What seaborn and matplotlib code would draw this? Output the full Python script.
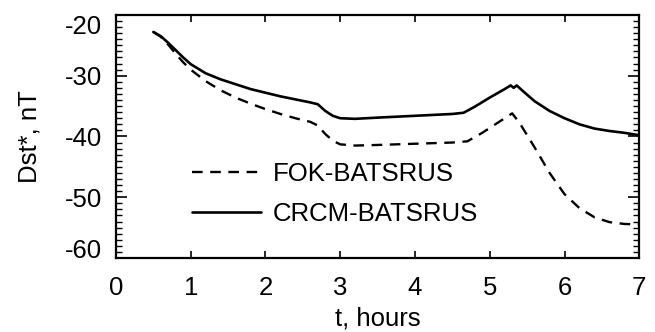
import matplotlib
matplotlib.use("Agg")
import matplotlib.pyplot as plt
import seaborn as sns
from matplotlib.ticker import MultipleLocator

# hours
t_crcm = [0.5, 0.6, 0.7, 0.8, 0.9, 1.0, 1.2, 1.4, 1.6, 1.8, 2.0, 2.2, 2.4, 2.6, 2.7,
          2.8, 2.9, 3.0, 3.2, 3.5, 4.0, 4.5, 4.65, 4.8, 5.0, 5.2, 5.28, 5.32, 5.36,
          5.45, 5.6, 5.8, 6.0, 6.2, 6.4, 6.6, 6.8, 7.0]
dst_crcm = [-22.8, -23.5, -24.6, -25.8, -27.0, -28.1, -29.6, -30.6, -31.4, -32.2,
            -32.8, -33.4, -33.9, -34.4, -34.7, -35.8, -36.6, -37.0, -37.1, -36.9,
            -36.6, -36.3, -36.1, -35.1, -33.6, -32.2, -31.6, -32.0, -31.6, -32.6,
            -34.2, -35.8, -37.0, -38.0, -38.7, -39.1, -39.4, -39.8]

t_fok = [0.5, 0.6, 0.7, 0.8, 0.9, 1.0, 1.2, 1.4, 1.6, 1.8, 2.0, 2.2, 2.4, 2.6, 2.7,
         2.8, 2.9, 3.0, 3.2, 3.5, 4.0, 4.5, 4.7, 4.9, 5.1, 5.3, 5.4, 5.6, 5.8, 6.0,
         6.2, 6.4, 6.6, 6.8, 7.0]
dst_fok = [-22.8, -23.6, -24.9, -26.4, -27.8, -29.0, -30.9, -32.4, -33.6, -34.6,
           -35.5, -36.3, -37.0, -37.6, -38.2, -39.6, -40.7, -41.3, -41.5, -41.4,
           -41.2, -41.0, -40.8, -39.4, -37.8, -36.2, -37.8, -41.8, -46.0, -49.5,
           -51.8, -53.3, -54.1, -54.4, -54.5]

yticks = [-60, -50, -40, -30, -20]
ytick_labels = ["-60", "-50", "-40", "-30", "-20"]

sns.set_style("ticks")
plt.rcParams["font.family"] = ["Liberation Sans", "DejaVu Sans"]
plt.rcParams.update({"text.color": "black", "axes.labelcolor": "black",
                     "xtick.color": "black", "ytick.color": "black",
                     "axes.edgecolor": "black"})
FS = 18.5

fig = plt.figure(figsize=(6.55, 3.32), dpi=100)
ax = fig.add_axes([0.177, 0.223, 0.799, 0.732])

sns.lineplot(x=t_fok, y=dst_fok, ax=ax, color="black", lw=1.7,
             label="FOK-BATSRUS", estimator=None, sort=False)
ax.lines[-1].set_dashes((4.5, 3.2))
sns.lineplot(x=t_crcm, y=dst_crcm, ax=ax, color="black", lw=1.9,
             label="CRCM-BATSRUS", estimator=None, sort=False)

ax.set_xlim(0, 7)
ax.set_ylim(-60, -20)
ax.xaxis.set_major_locator(MultipleLocator(1))
ax.yaxis.set_minor_locator(MultipleLocator(1))
ax.set_yticks(yticks)
ax.set_yticklabels(ytick_labels)
yl = ax.get_yticklabels()
yl[0].set_va("baseline")
yl[-1].set_va("top")

ax.tick_params(which="both", direction="in", top=True, right=True,
               labelsize=FS, width=1.2, color="black", labelcolor="black")
ax.tick_params(axis="x", which="major", length=5, pad=13)
ax.tick_params(axis="y", which="major", length=8, pad=10)
ax.tick_params(axis="y", which="minor", length=4, width=1)
for sp in ax.spines.values():
    sp.set_linewidth(1.6)
    sp.set_color("black")

ax.set_xlabel("t, hours", fontsize=FS, labelpad=5)
ax.set_ylabel("Dst*, nT", fontsize=FS, labelpad=17)

ax.legend(loc="center left", bbox_to_anchor=(0.145, 0.265), frameon=False,
          fontsize=FS, handlelength=2.7, handletextpad=0.45, labelspacing=0.62,
          borderaxespad=0, borderpad=0)

fig.savefig("out.png", dpi=100)
